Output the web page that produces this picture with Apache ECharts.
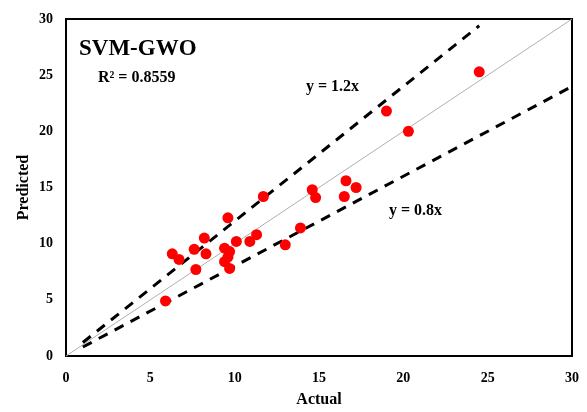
<!DOCTYPE html>
<html><head><meta charset="utf-8">
<script src="https://cdn.jsdelivr.net/npm/echarts@6/dist/echarts.min.js"></script>
<style>html,body{margin:0;padding:0;background:#fff}#c{width:587px;height:412px}</style>
</head><body><div id="c"></div>
<script>
const actual = [5.9, 6.3, 6.7, 7.6, 7.7, 8.2, 8.3, 9.6, 9.4, 9.7, 9.4, 9.6, 9.7, 10.1, 10.9, 11.3, 11.7, 13.0, 13.9, 14.6, 14.8, 16.5, 16.6, 17.2, 19.0, 20.3, 24.5];
const predicted = [4.9, 9.1, 8.6, 9.5, 7.7, 10.5, 9.1, 12.3, 9.6, 9.3, 8.4, 8.8, 7.8, 10.2, 10.2, 10.8, 14.2, 9.9, 11.4, 14.8, 14.1, 14.2, 15.6, 15.0, 21.8, 20.0, 25.3];
const upperLine = [[1, 1.2], [24.5, 29.4]];
const lowerLine = [[1, 0.8], [30, 24]];
const idealLine = [[0, 0], [30, 30]];
const fontF = 'Liberation Serif, Times New Roman, serif';
const chart = echarts.init(document.getElementById('c'));
chart.setOption({
  animation: false,
  grid: {left: 66, right: 15, top: 19, bottom: 56, show: true, borderColor: '#000', borderWidth: 2, outerBoundsMode: 'none', containLabel: false},
  xAxis: {type: 'value', min: 0, max: 30, interval: 5, name: 'Actual', nameLocation: 'middle', nameGap: 36, nameMoveOverlap: false,
    nameTextStyle: {fontFamily: fontF, fontWeight: 'bold', fontSize: 16, color: '#000'},
    axisLine: {show: false}, axisTick: {show: false}, splitLine: {show: false},
    axisLabel: {fontFamily: fontF, fontWeight: 'bold', fontSize: 14, color: '#000', margin: 15}},
  yAxis: {type: 'value', min: 0, max: 30, interval: 5, name: 'Predicted', nameLocation: 'middle', nameGap: 34, nameMoveOverlap: false,
    nameTextStyle: {fontFamily: fontF, fontWeight: 'bold', fontSize: 16, color: '#000'},
    axisLine: {show: false}, axisTick: {show: false}, splitLine: {show: false},
    axisLabel: {fontFamily: fontF, fontWeight: 'bold', fontSize: 14, color: '#000', margin: 13}},
  series: [
    {type: 'line', data: idealLine, symbol: 'none', lineStyle: {color: '#b0b0b0', width: 1}, z: 1},
    {type: 'line', data: upperLine, symbol: 'none', lineStyle: {color: '#000', width: 3, type: [10, 8]}, z: 2},
    {type: 'line', data: lowerLine, symbol: 'none', lineStyle: {color: '#000', width: 3, type: [10, 8]}, z: 2},
    {type: 'scatter', data: actual.map((a, i) => [a, predicted[i]]), symbolSize: 11, itemStyle: {color: '#ff0000', opacity: 1}, z: 3}
  ],
  graphic: [
    {type: 'text', left: 79, top: 38, style: {text: 'SVM-GWO', font: 'bold 23px ' + fontF, fill: '#000'}},
    {type: 'text', left: 98, top: 70, style: {text: 'R² = 0.8559', font: 'bold 16px ' + fontF, fill: '#000'}},
    {type: 'text', left: 306, top: 79, style: {text: 'y = 1.2x', font: 'bold 16px ' + fontF, fill: '#000'}},
    {type: 'text', left: 389, top: 203, style: {text: 'y = 0.8x', font: 'bold 16px ' + fontF, fill: '#000'}}
  ]
});
</script></body></html>
